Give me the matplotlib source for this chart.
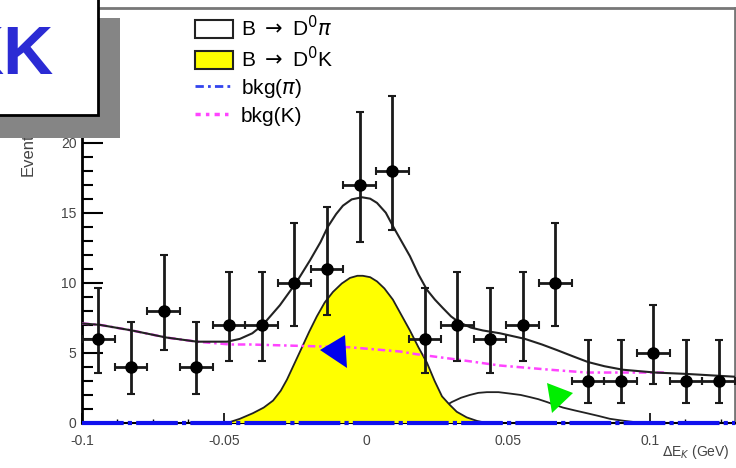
import numpy as np
import matplotlib
matplotlib.use("Agg")
import matplotlib.pyplot as plt
from matplotlib.patches import Patch, Rectangle, Polygon
from matplotlib.lines import Line2D
from matplotlib.ticker import MultipleLocator

plt.rcParams['font.family'] = ['Liberation Sans', 'DejaVu Sans']

# data points (bin centres, 20 bins from -0.1 to 0.13)
bin_centers = [-0.09425, -0.08275, -0.07125, -0.05975, -0.04825, -0.03675, -0.02525,
               -0.01375, -0.00225, 0.00925, 0.02075, 0.03225, 0.04375, 0.05525,
               0.06675, 0.07825, 0.08975, 0.10125, 0.11275, 0.12425]
counts = [6, 4, 8, 4, 7, 7, 10, 11, 17, 18, 6, 7, 6, 7, 10, 3, 3, 5, 3, 3]
err_low_end = [3.6, 2.1, 5.2, 2.1, 4.4, 4.4, 6.9, 7.7, 12.9, 13.8, 3.6, 4.4, 3.6, 4.4,
               6.9, 1.4, 1.4, 2.8, 1.4, 1.4]
err_high_end = [9.6, 7.2, 12.0, 7.2, 10.8, 10.8, 14.3, 15.4, 22.2, 23.3, 9.6, 10.8, 9.6,
                10.8, 14.3, 5.9, 5.9, 8.4, 5.9, 5.9]
half_bin = 0.00575

# total fit curve
total_x = [-0.1, -0.0937, -0.0824, -0.0704, -0.0595, -0.0489, -0.0444, -0.0400, -0.0363,
           -0.0303, -0.0246, -0.0197, -0.0160, -0.0134, -0.0105, -0.0081, -0.0050,
           -0.0014, 0.0015, 0.0039, 0.0070, 0.0099, 0.0127, 0.0155, 0.0185, 0.0215,
           0.0243, 0.0271, 0.0300, 0.0327, 0.0370, 0.0412, 0.0472, 0.0560, 0.0620,
           0.0673, 0.0730, 0.0782, 0.0840, 0.0905, 0.1018, 0.1130, 0.13]
total_y = [7.1, 7.0, 6.6, 6.1, 5.8, 5.8, 6.0, 6.4, 7.0, 8.4, 10.0, 11.6, 12.9, 14.0,
           14.9, 15.5, 15.95, 16.1, 16.0, 15.7, 15.0, 13.9, 12.9, 11.9, 10.6, 9.5,
           8.8, 8.2, 7.6, 7.2, 6.8, 6.6, 6.4, 6.0, 5.6, 5.2, 4.75, 4.35, 4.05, 3.8,
           3.6, 3.5, 3.3]

# B -> D0 K (yellow)
dk_x = [-0.0489, -0.0444, -0.0398, -0.0360, -0.0327, -0.0300, -0.0278, -0.0255,
        -0.0232, -0.0200, -0.0173, -0.0145, -0.0116, -0.0085, -0.0056, -0.0030,
        -0.0011, 0.0015, 0.0039, 0.0065, 0.0095, 0.0125, 0.0155, 0.0185, 0.0215,
        0.0242, 0.0268, 0.0295, 0.0320, 0.0355, 0.0391, 0.0426]
dk_y = [0.0, 0.3, 0.7, 1.1, 1.6, 2.3, 3.1, 4.1, 5.1, 6.5, 7.6, 8.6, 9.35, 9.95, 10.35,
        10.5, 10.5, 10.4, 10.1, 9.6, 8.8, 7.7, 6.6, 5.4, 4.3, 3.0, 1.9, 1.3, 0.8, 0.4,
        0.15, 0.0]

# B -> D0 pi (white)
dpi_x = [0.0120, 0.0190, 0.0261, 0.0303, 0.0335, 0.0366, 0.0396, 0.0426, 0.0467,
         0.0507, 0.0545, 0.0577, 0.0607, 0.0637, 0.0665, 0.0694, 0.0735, 0.0778,
         0.0820, 0.0859, 0.0900, 0.0940, 0.0982]
dpi_y = [0.0, 0.4, 1.0, 1.5, 1.8, 2.0, 2.15, 2.2, 2.2, 2.1, 2.0, 1.85, 1.7, 1.5,
         1.3, 1.1, 0.9, 0.7, 0.5, 0.3, 0.18, 0.08, 0.0]

# backgrounds
bkgk_x = [-0.1, -0.0937, -0.0824, -0.0704, -0.0595, -0.0478, -0.0408, -0.0232, -0.0056,
          0.0120, 0.0180, 0.0331, 0.0472, 0.0648, 0.0778, 0.1053]
bkgk_y = [7.1, 7.0, 6.6, 6.1, 5.8, 5.6, 5.6, 5.5, 5.4, 5.1, 4.9, 4.5, 4.1, 3.8, 3.6, 3.6]
bkgpi_x = [-0.1, 0.13]
bkgpi_y = [0.0, 0.0]

W, H = 736, 468
fig = plt.figure(figsize=(W / 100, H / 100), dpi=100)
ax = fig.add_axes([82 / W, 45 / H, 653 / W, 415 / H])

ax.fill_between(dpi_x, 0, dpi_y, facecolor='white', edgecolor='none', zorder=2)
ax.plot(dpi_x, dpi_y, color='#222222', lw=1.3, zorder=2.1)
ax.fill_between(dk_x, 0, dk_y, facecolor='#ffff00', edgecolor='none', zorder=3)
ax.plot(dk_x, dk_y, color='#222222', lw=1.3, zorder=3.1)
ax.plot(bkgk_x, bkgk_y, color='#ff44ff', lw=1.8, ls=(0, (3, 1.5, 1, 1.5)), zorder=4)
ax.plot(total_x, total_y, color='#222222', lw=1.5, zorder=4.5)
ax.plot(bkgpi_x, bkgpi_y, color='#1010ee', lw=3, ls=(0, (10, 1, 1, 1)), zorder=5,
        clip_on=False)

yerr = [np.array(counts) - np.array(err_low_end), np.array(err_high_end) - np.array(counts)]
ax.errorbar(bin_centers, counts, yerr=yerr, xerr=half_bin, fmt='o', color='black',
            ecolor='#1a1a1a', elinewidth=2, capsize=3, capthick=1.5, markersize=8,
            zorder=6)

ax.set_xlim(-0.1, 0.13)
ax.set_ylim(0, 29.6)
ax.set_xticks([-0.1, -0.05, 0, 0.05, 0.1])
ax.set_xticklabels(['-0.1', '-0.05', '0', '0.05', '0.1'])
ax.set_yticks([0, 5, 10, 15, 20])
ax.xaxis.set_minor_locator(MultipleLocator(0.0125))
ax.yaxis.set_minor_locator(MultipleLocator(1))
ax.tick_params(axis='y', which='major', direction='in', length=15, width=1.5,
               labelsize=10, labelcolor='#444444', pad=4)
ax.tick_params(axis='y', which='minor', direction='in', length=8, width=1.5)
ax.tick_params(axis='x', which='major', direction='in', length=7, width=1.2,
               labelsize=10, labelcolor='#444444', pad=8)
ax.tick_params(axis='x', which='minor', direction='in', length=3, width=1)
ax.spines['left'].set_linewidth(2)
ax.spines['bottom'].set_linewidth(1.5)
for s in ['top', 'right']:
    ax.spines[s].set_color('#777777')
    ax.spines[s].set_linewidth(2)

handles = [Patch(facecolor='white', edgecolor='#222222', lw=1.5),
           Patch(facecolor='#ffff00', edgecolor='#222222', lw=1.5),
           Line2D([], [], color='#3344ee', lw=2, ls=(0, (3, 1.5, 1, 1.5))),
           Line2D([], [], color='#ff44ff', lw=2.5, ls=(0, (1.5, 1.5, 1, 1.5)))]
labels = [r'B $\rightarrow$ D$^{0}\pi$', r'B $\rightarrow$ D$^{0}$K',
          r'bkg($\pi$)', 'bkg(K)']
fig.legend(handles, labels, loc='upper left', bbox_to_anchor=(195 / W, 1 - 15 / H),
           frameon=False, fontsize=15, borderpad=0, borderaxespad=0, handlelength=1.8,
           handleheight=0.9, handletextpad=0.4, labelspacing=0.28)

fig.text(730 / W, 1 - 452 / H, r'$\Delta$E$_{K}$ (GeV)', ha='right', va='center',
         fontsize=10, color='#444444')
fig.text(28 / W, 1 - 176 / H, 'Events', rotation=90, ha='center',
         va='bottom', fontsize=12, color='#444444', zorder=1)

# overlay box with shadow
fig.patches.append(Rectangle((0, 1 - 138 / H), 120 / W, 120 / H, transform=fig.transFigure,
                             facecolor='#858585', edgecolor='none', zorder=5))
fig.patches.append(Rectangle((-2 / W, 1 - 115 / H), 100 / W, 118 / H,
                             transform=fig.transFigure, facecolor='white',
                             edgecolor='black', lw=2, zorder=6))
fig.text(54 / W, 1 - 56 / H, 'KK', ha='right', va='center', fontsize=50,
         fontweight='bold', color='#2b2bd4', zorder=7)

# arrows
fig.patches.append(Polygon([(320 / W, 1 - 350 / H), (345 / W, 1 - 335 / H), (347 / W, 1 - 368 / H)],
                           closed=True, transform=fig.transFigure, facecolor='#0000ee',
                           edgecolor='none', zorder=8))
fig.patches.append(Polygon([(547 / W, 1 - 383 / H), (573 / W, 1 - 393 / H), (552 / W, 1 - 413 / H)],
                           closed=True, transform=fig.transFigure, facecolor='#00ee00',
                           edgecolor='none', zorder=8))

fig.savefig('out.png', dpi=100)
